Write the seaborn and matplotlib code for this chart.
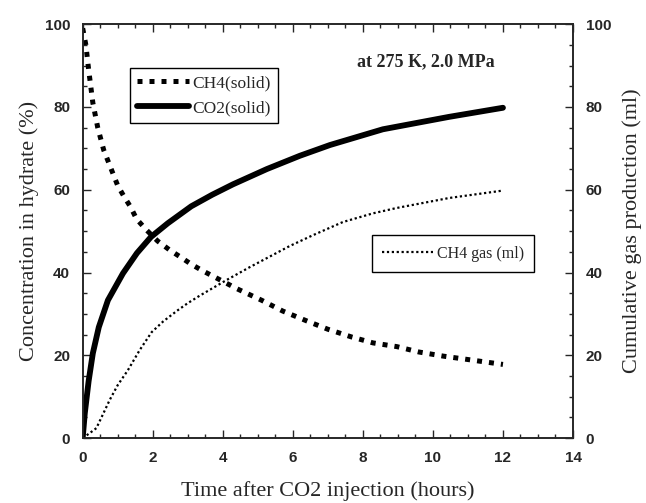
import pandas as pd
import seaborn as sns
import matplotlib.pyplot as plt
from matplotlib.ticker import MultipleLocator

# values
t_ch4s = [0, 0.09, 0.17, 0.29, 0.43, 0.6, 0.86, 1.0, 1.17, 1.37, 1.54, 1.83, 2.14, 2.49,
          2.8, 3.1, 3.43, 3.77, 4.4, 5.11, 5.71, 6.4, 7.0, 7.69, 8.29, 8.97, 9.6, 10.3,
          10.9, 12.0]
ch4_solid = [99, 95, 89, 81, 75, 69.6, 64, 61, 58.5, 55.8, 52.9, 50.2, 47.6, 45.4,
             43.7, 42, 40.4, 38.9, 36.1, 33.3, 30.7, 28.3, 26.3, 24.4, 23, 22.1, 20.8, 19.8,
             19.1, 17.8]

t_co2 = [0, 0.06, 0.17, 0.29, 0.46, 0.72, 1.15, 1.55, 1.95, 2.43, 3.1, 3.7, 4.29, 5.26,
         6.2, 7.06, 8.57, 10.46, 12.0]
co2_solid = [0, 6, 13.8, 20.5, 26.8, 33.3, 39.8, 44.7, 48.6, 51.9, 56.0, 58.8, 61.3, 65.0,
             68.2, 70.8, 74.6, 77.6, 79.8]

t_gas = [0, 0.2, 0.39, 0.57, 0.77, 1.0, 1.29, 1.63, 1.97, 2.3, 2.7, 3.0, 3.34, 4.11,
         4.77, 5.91, 6.57, 7.43, 8.29, 8.97, 10.46, 12.0]
ch4_gas = [0, 1.2, 2.4, 5.6, 9.2, 12.8, 16.4, 21.3, 25.6, 28.2, 30.8, 32.6, 34.4, 38.2,
           41.3, 46.4, 49, 52.2, 54.3, 55.6, 58, 59.8]

sns.set_style("ticks")
plt.rcParams['font.family'] = ['Liberation Serif', 'DejaVu Serif']
tickfont = ['Liberation Sans Narrow', 'Liberation Sans', 'DejaVu Sans']

fig, ax = plt.subplots(figsize=(6.46, 5.03), dpi=100)
fig.subplots_adjust(left=0.128, right=0.887, bottom=0.129, top=0.952)
ax2 = ax.twinx()

sns.lineplot(x=t_ch4s, y=ch4_solid, ax=ax, color='black', lw=3.6,
             linestyle=(0, (1, 1.4)), dash_capstyle='butt', label='CH4(solid)')
sns.lineplot(x=t_co2, y=co2_solid, ax=ax, color='black', lw=4.2, label='CO2(solid)')
sns.lineplot(x=t_gas, y=ch4_gas, ax=ax2, color='black', lw=1.6,
             linestyle=(0, (1, 1.2)), label='CH4 gas (ml)')

for a in (ax, ax2):
    a.set_xlim(0, 14)
    a.set_ylim(0, 100)
    a.yaxis.set_major_locator(MultipleLocator(20))
    a.yaxis.set_minor_locator(MultipleLocator(5))
    a.tick_params(which='both', direction='in', width=1, pad=9)
    a.tick_params(which='major', length=6)
    a.tick_params(which='minor', length=3)
    for s in a.spines.values():
        s.set_linewidth(1.2)
ax.xaxis.set_major_locator(MultipleLocator(2))
ax.xaxis.set_minor_locator(MultipleLocator(0.5))
ax.tick_params(which='both', top=True)
ax.tick_params(axis='y', which='both', right=False)

for lab in ax.get_xticklabels() + ax.get_yticklabels() + ax2.get_yticklabels():
    lab.set_family(tickfont)
    lab.set_fontweight('bold')
    lab.set_fontsize(11)

ax.set_xlabel('Time after CO2 injection (hours)', fontsize=16, labelpad=12)
ax.set_ylabel('Concentration in hydrate (%)', fontsize=16, labelpad=4)
ax2.set_ylabel('Cumulative gas production (ml)', fontsize=16, labelpad=8)

leg1 = ax.legend(loc='upper left', bbox_to_anchor=(0.096, 0.894), fontsize=12.5,
                 handlelength=3, frameon=True, fancybox=False, edgecolor='black',
                 framealpha=1, borderaxespad=0, handletextpad=0.2)
leg1.get_frame().set_linewidth(1)
leg2 = ax2.legend(loc='upper left', bbox_to_anchor=(0.59, 0.49), fontsize=11.5,
                  handlelength=3.2, frameon=True, fancybox=False, edgecolor='black',
                  framealpha=1, borderaxespad=0, handletextpad=0.2, borderpad=0.65)
leg2.get_frame().set_linewidth(1)

ax.text(0.70, 0.908, 'at 275 K, 2.0 MPa', transform=ax.transAxes, ha='center',
        va='center', fontsize=13, fontweight='bold')

fig.savefig('out.png', dpi=100)
